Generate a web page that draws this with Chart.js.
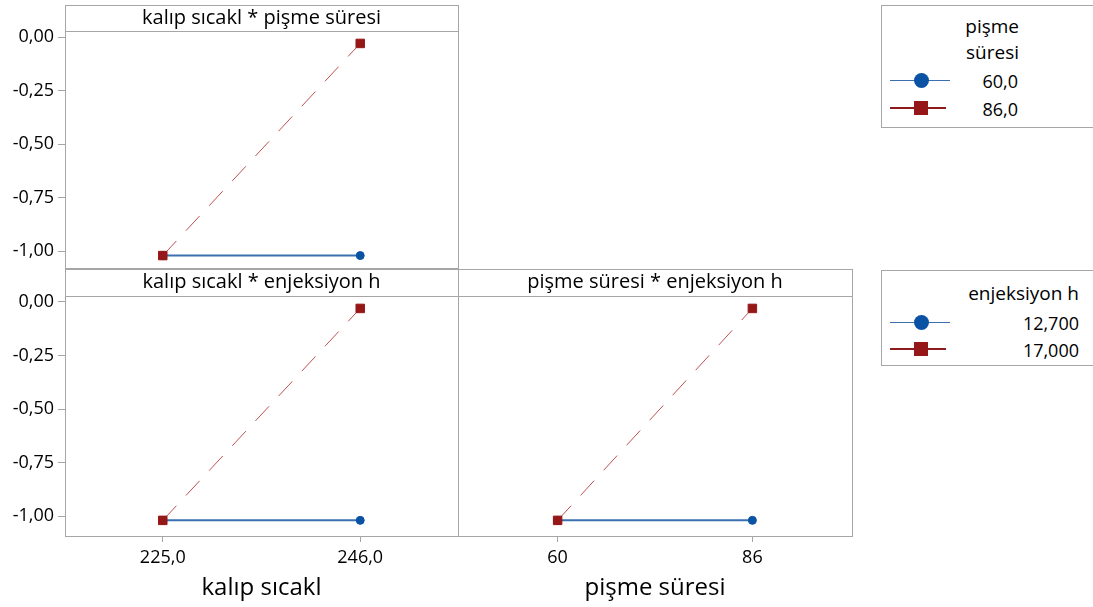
<!DOCTYPE html>
<html>
<head>
<meta charset="utf-8">
<script src="https://cdn.jsdelivr.net/npm/chart.js@4.4.1/dist/chart.umd.min.js"></script>
<style>
  html, body { margin: 0; padding: 0; background: #fff; }
  body { width: 1093px; height: 607px; position: relative; overflow: hidden; font-family: "Open Sans", sans-serif; color: #000; }
  canvas { position: absolute; }
  .legend { position: absolute; left: 881px; width: 230px; border: 1px solid #a6a6a6; background: #fff; }
  .legend .ttl { position: absolute; text-align: right; font-size: 19px; line-height: 26px; }
  .legend .row { position: absolute; left: 0; height: 26px; width: 100%; }
  .legend .row .ln { position: absolute; left: 8px; top: 12px; height: 1px; }
  .legend .row .mk { position: absolute; }
  .legend .row .val { position: absolute; text-align: right; font-size: 18px; line-height: 26px; top: 0; }
</style>
</head>
<body>
<canvas id="ksPs" width="470" height="275" style="left:0;top:0"></canvas>
<canvas id="ksEh" width="470" height="347" style="left:0;top:260px"></canvas>
<canvas id="psEh" width="430" height="347" style="left:440px;top:260px"></canvas>

<div class="legend" style="top:5px;height:121px">
  <div class="ttl" style="left:0;width:137px;top:7px">pişme<br>süresi</div>
  <div class="row" style="top:62px">
    <div class="ln" style="width:60px;background:#3a6fb0"></div>
    <div class="mk" style="left:32px;top:5px;width:15px;height:15px;border-radius:50%;background:#0a52a3"></div>
    <div class="val" style="left:0;width:136px">60,0</div>
  </div>
  <div class="row" style="top:90px">
    <div class="ln" style="width:56px;height:2px;top:11px;background:#8e1b1b"></div>
    <div class="mk" style="left:32px;top:5px;width:14px;height:14px;background:#951717"></div>
    <div class="val" style="left:0;width:136px">86,0</div>
  </div>
</div>
<div class="legend" style="top:270px;height:94px">
  <div class="ttl" style="left:0;width:197px;top:9px">enjeksiyon h</div>
  <div class="row" style="top:39px">
    <div class="ln" style="width:60px;background:#3a6fb0"></div>
    <div class="mk" style="left:32px;top:5px;width:15px;height:15px;border-radius:50%;background:#0a52a3"></div>
    <div class="val" style="left:0;width:197px">12,700</div>
  </div>
  <div class="row" style="top:66px">
    <div class="ln" style="width:56px;height:2px;top:11px;background:#8e1b1b"></div>
    <div class="mk" style="left:32px;top:5px;width:14px;height:14px;background:#951717"></div>
    <div class="val" style="left:0;width:197px">17,000</div>
  </div>
</div>

<script>
// factor levels
const kalipSicakl = [225, 246];
const pismeSuresi = [60, 86];
const kalipLabels = ["225,0", "246,0"];
const pismeLabels = ["60", "86"];
const yTicks = [0, -0.25, -0.5, -0.75, -1];

// fitted means per panel (low level, high level of the trace factor)
const ksPs_60 = [-1.02, -1.02];
const ksPs_86 = [-1.02, -0.03];
const ksEh_127 = [-1.02, -1.02];
const ksEh_170 = [-1.02, -0.03];
const psEh_127 = [-1.02, -1.02];
const psEh_170 = [-1.02, -0.03];

const BLUE = "#0a52a3";
const BLUE_LINE = "#3a6fb0";
const RED = "#951717";
const RED_LINE = "#bd5050";
const FRAME = "#a6a6a6";
const INK = "#000";
const FONT = "'Open Sans', sans-serif";

// panel frame + title strip on top of the plot area
const stripPlugin = {
  id: "strip",
  afterDraw(chart, args, opts) {
    const { ctx, chartArea: a } = chart;
    const top = a.top - opts.height;
    ctx.save();
    ctx.strokeStyle = FRAME;
    ctx.lineWidth = 1;
    ctx.strokeRect(Math.round(a.left) + 0.5, top + 0.5, Math.round(a.right - a.left), Math.round(a.bottom - top));
    ctx.beginPath();
    ctx.moveTo(a.left, Math.round(a.top) + 0.5);
    ctx.lineTo(a.right, Math.round(a.top) + 0.5);
    ctx.stroke();
    ctx.fillStyle = INK;
    ctx.font = "20px " + FONT;
    ctx.textAlign = "center";
    ctx.textBaseline = "middle";
    ctx.fillText(opts.text, (a.left + a.right) / 2, top + opts.height / 2);
    ctx.restore();
  }
};

function series(low, high) {
  return [
    {
      data: high, order: 0,
      borderColor: RED_LINE, borderWidth: 1, borderDash: [20, 14],
      pointStyle: "rect", pointRadius: 6, pointBackgroundColor: RED, pointBorderColor: RED, pointBorderWidth: 1
    },
    {
      data: low, order: 1,
      borderColor: BLUE_LINE, borderWidth: 2,
      pointStyle: "circle", pointRadius: 4, pointBackgroundColor: BLUE, pointBorderColor: BLUE, pointBorderWidth: 1
    }
  ];
}

function makePanel(id, cfg) {
  const xs = cfg.levels;
  const datasets = series(cfg.low, cfg.high).map(d => ({
    ...d, data: d.data.map((v, i) => ({ x: xs[i], y: v })), tension: 0
  }));
  return new Chart(document.getElementById(id), {
    type: "line",
    data: { datasets },
    options: {
      responsive: false,
      animation: false,
      layout: { padding: cfg.padding },
      plugins: {
        legend: { display: false },
        tooltip: { enabled: false },
        strip: { text: cfg.title, height: cfg.stripH }
      },
      scales: {
        x: {
          type: "linear",
          display: cfg.showX,
          min: xs[0] - cfg.pad,
          max: xs[1] + cfg.pad,
          afterBuildTicks: s => { s.ticks = xs.map(v => ({ value: v })); },
          afterFit: s => {
            if (cfg.showX) s.height = 71;
            s.paddingLeft = s.paddingRight = 0;
          },
          grid: { drawOnChartArea: false, tickLength: 6, color: FRAME },
          border: { display: false },
          ticks: {
            padding: 5,
            color: INK,
            font: { family: FONT, size: 18 },
            callback: (v) => cfg.labels[xs.indexOf(v)]
          },
          title: { display: true, text: cfg.xTitle, color: INK, font: { family: FONT, size: 24 }, padding: { top: 0, bottom: 4 } }
        },
        y: {
          display: cfg.showY,
          min: cfg.yMin,
          max: 0.028,
          afterBuildTicks: s => { s.ticks = yTicks.map(v => ({ value: v })); },
          afterFit: s => {
            if (cfg.showY) s.width = 65;
            s.paddingTop = s.paddingBottom = 0;
          },
          grid: { drawOnChartArea: false, tickLength: 7, color: FRAME },
          border: { display: false },
          ticks: {
            padding: 4,
            color: INK,
            font: { family: FONT, size: 18 },
            callback: v => v.toFixed(2).replace(".", ",")
          }
        }
      }
    },
    plugins: [stripPlugin]
  });
}

makePanel("ksPs", {
  levels: kalipSicakl, labels: kalipLabels, pad: 10.4, low: ksPs_60, high: ksPs_86,
  title: "kalıp sıcakl * pişme süresi", stripH: 26, xTitle: "kalıp sıcakl",
  showX: false, showY: true, yMin: -1.078,
  padding: { top: 31, bottom: 6, left: 0, right: 12 }
});
makePanel("ksEh", {
  levels: kalipSicakl, labels: kalipLabels, pad: 10.4, low: ksEh_127, high: ksEh_170,
  title: "kalıp sıcakl * enjeksiyon h", stripH: 27, xTitle: "kalıp sıcakl",
  showX: true, showY: true, yMin: -1.093,
  padding: { top: 36, bottom: 0, left: 0, right: 12 }
});
makePanel("psEh", {
  levels: pismeSuresi, labels: pismeLabels, pad: 13.3, low: psEh_127, high: psEh_170,
  title: "pişme süresi * enjeksiyon h", stripH: 27, xTitle: "pişme süresi",
  showX: true, showY: false, yMin: -1.093,
  padding: { top: 36, bottom: 0, left: 18, right: 18 }
});
</script>
</body>
</html>
